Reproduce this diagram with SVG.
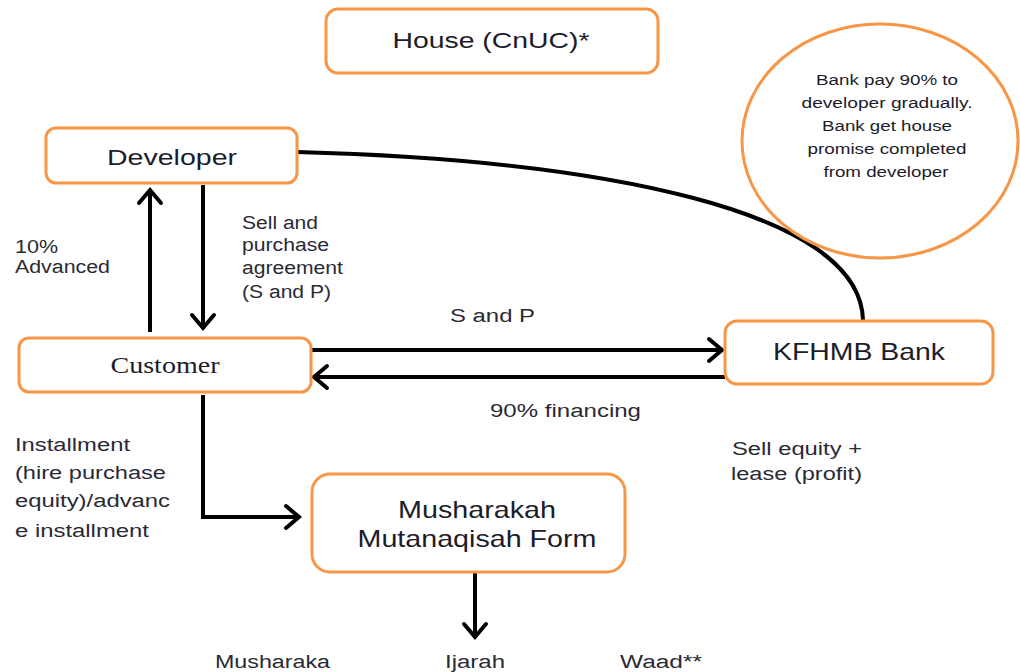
<svg xmlns="http://www.w3.org/2000/svg" width="1020" height="672" viewBox="0 0 1020 672">
<defs>
<style>
.box{fill:#fff;stroke:#F79646;stroke-width:3}
.t{font-family:"Liberation Sans",Arial,sans-serif;fill:#1c1c2a}
.lbl{font-family:"Liberation Sans",Arial,sans-serif;fill:#2a2a35;font-size:18px}
.c{fill:none;stroke:#000;stroke-width:4}
</style>
<marker id="ah" markerUnits="userSpaceOnUse" markerWidth="40" markerHeight="40" refX="0" refY="0" orient="auto" overflow="visible">
<path d="M-13,-11 L0,0 L-13,11" fill="none" stroke="#000" stroke-width="4" stroke-linecap="round" stroke-linejoin="miter"/>
</marker>
</defs>
<rect width="1020" height="672" fill="#fff"/>
<g id="connectors">
<path class="c" d="M297,152 C600,160 860,210 863,320" stroke-width="3"/>
<path class="c" d="M150,332 L150,190" marker-end="url(#ah)"/>
<path class="c" d="M203,185 L203,328" marker-end="url(#ah)"/>
<path class="c" d="M311,350 L722,350" marker-end="url(#ah)"/>
<path class="c" d="M725,377 L314,377" marker-end="url(#ah)"/>
<path class="c" d="M203,395 L203,517 L299,517" marker-end="url(#ah)"/>
<path class="c" d="M475,572 L475,637" marker-end="url(#ah)"/>
</g>
<g id="house">
<rect class="box" x="326" y="9" width="332" height="64" rx="12"/>
<text class="t" x="491" y="48" font-size="22" text-anchor="middle" textLength="197" lengthAdjust="spacingAndGlyphs">House (CnUC)*</text>
</g>
<g id="developer">
<rect class="box" x="46" y="128" width="251" height="55" rx="10"/>
<text class="t" x="172" y="165" font-size="22" text-anchor="middle" textLength="130" lengthAdjust="spacingAndGlyphs">Developer</text>
</g>
<g id="customer">
<rect class="box" x="19" y="338" width="292" height="54" rx="10"/>
<text x="165" y="373" font-size="23" text-anchor="middle" font-family="'Liberation Serif','Times New Roman',serif" fill="#1c1c2a" textLength="109" lengthAdjust="spacingAndGlyphs">Customer</text>
</g>
<g id="bank">
<rect class="box" x="725" y="321" width="268" height="63" rx="12"/>
<text class="t" x="859" y="360" font-size="24" text-anchor="middle" textLength="172" lengthAdjust="spacingAndGlyphs">KFHMB Bank</text>
</g>
<g id="musharakah">
<rect class="box" x="312" y="474" width="313" height="98" rx="18"/>
<text class="t" x="477" y="518" font-size="24" text-anchor="middle" textLength="158" lengthAdjust="spacingAndGlyphs">Musharakah</text>
<text class="t" x="477" y="547" font-size="24" text-anchor="middle" textLength="239" lengthAdjust="spacingAndGlyphs">Mutanaqisah Form</text>
</g>
<g id="note">
<ellipse cx="880" cy="141" rx="138" ry="117" fill="#fff" stroke="#F79646" stroke-width="3"/>
<text class="t" font-size="14" text-anchor="middle">
<tspan x="887" y="85" textLength="142" lengthAdjust="spacingAndGlyphs">Bank pay 90% to</tspan>
</text>
<text class="t" font-size="14" text-anchor="middle" x="887" y="108" textLength="171" lengthAdjust="spacingAndGlyphs">developer gradually.</text>
<text class="t" font-size="14" text-anchor="middle" x="887" y="131" textLength="130" lengthAdjust="spacingAndGlyphs">Bank get house</text>
<text class="t" font-size="14" text-anchor="middle" x="887" y="154" textLength="159" lengthAdjust="spacingAndGlyphs">promise completed</text>
<text class="t" font-size="14" text-anchor="middle" x="886" y="177" textLength="125" lengthAdjust="spacingAndGlyphs">from developer</text>
</g>
<g id="labels">
<text class="lbl" x="15" y="253" textLength="43" lengthAdjust="spacingAndGlyphs">10%</text>
<text class="lbl" x="15" y="273" textLength="95" lengthAdjust="spacingAndGlyphs">Advanced</text>
<text class="lbl" x="242" y="229" textLength="76" lengthAdjust="spacingAndGlyphs">Sell and</text>
<text class="lbl" x="242" y="251" textLength="87" lengthAdjust="spacingAndGlyphs">purchase</text>
<text class="lbl" x="242" y="274" textLength="101" lengthAdjust="spacingAndGlyphs">agreement</text>
<text class="lbl" x="242" y="298" textLength="89" lengthAdjust="spacingAndGlyphs">(S and P)</text>
<text class="lbl" x="450" y="322" textLength="85" lengthAdjust="spacingAndGlyphs">S and P</text>
<text class="lbl" x="490" y="417" textLength="151" lengthAdjust="spacingAndGlyphs">90% financing</text>
<text class="lbl" x="732" y="455" textLength="130" lengthAdjust="spacingAndGlyphs">Sell equity +</text>
<text class="lbl" x="731" y="480" textLength="131" lengthAdjust="spacingAndGlyphs">lease (profit)</text>
<text class="lbl" x="15" y="451" textLength="115" lengthAdjust="spacingAndGlyphs">Installment</text>
<text class="lbl" x="15" y="479" textLength="151" lengthAdjust="spacingAndGlyphs">(hire purchase</text>
<text class="lbl" x="15" y="507" textLength="155" lengthAdjust="spacingAndGlyphs">equity)/advanc</text>
<text class="lbl" x="15" y="537" textLength="134" lengthAdjust="spacingAndGlyphs">e installment</text>
<text class="lbl" x="215" y="668" textLength="115" lengthAdjust="spacingAndGlyphs">Musharaka</text>
<text class="lbl" x="445" y="668" textLength="60" lengthAdjust="spacingAndGlyphs">Ijarah</text>
<text class="lbl" x="620" y="668" textLength="82" lengthAdjust="spacingAndGlyphs">Waad**</text>
</g>
</svg>
